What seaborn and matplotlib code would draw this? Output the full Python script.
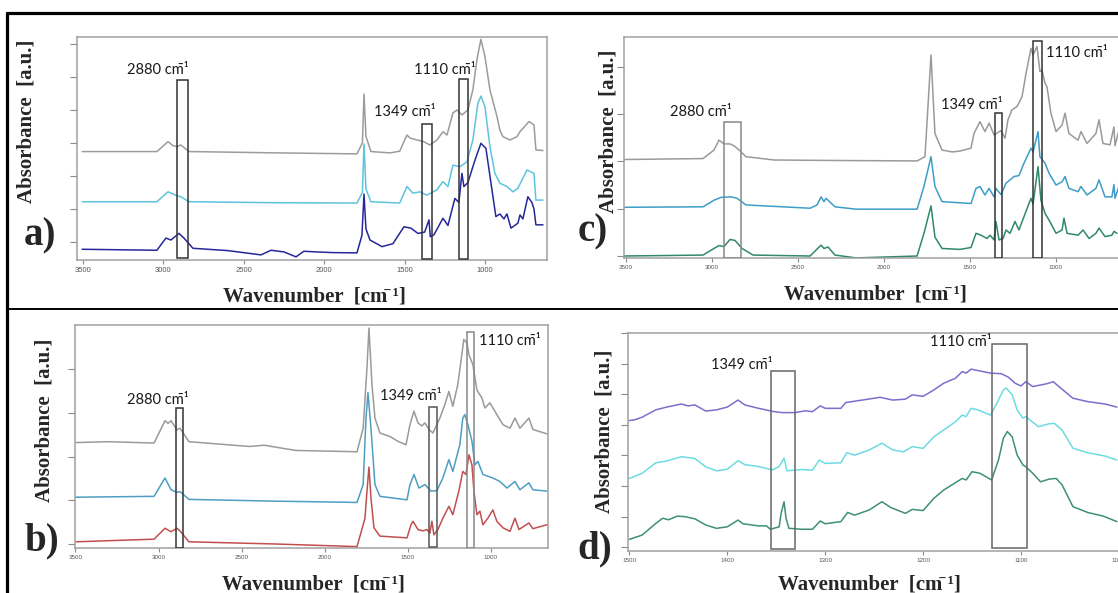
import pandas as pd
import matplotlib
matplotlib.use("Agg")
import matplotlib.pyplot as plt
from matplotlib.patches import Rectangle
from matplotlib.lines import Line2D
import seaborn as sns

# ---------------------------------------------------------------- spectra
# (wavenumber [cm-1], absorbance offset [a.u.])
a_grey = [(3505, 2.74), (3040, 2.74), (2971, 3.04), (2940, 2.92), (2915, 2.89), (2891, 2.94),
          (2841, 2.74), (2300, 2.70), (1796, 2.67), (1762, 3.0), (1752, 4.48), (1740, 3.2),
          (1709, 2.74), (1591, 2.70), (1530, 2.75), (1485, 3.24), (1466, 3.15), (1423, 3.09),
          (1386, 3.05), (1342, 2.94), (1299, 3.09), (1261, 3.34), (1236, 3.24), (1199, 3.91),
          (1174, 4.00), (1143, 3.85), (1106, 4.00), (1075, 4.61), (1050, 5.52), (1025, 6.14),
          (1000, 5.62), (969, 4.61), (925, 3.80), (907, 3.39), (888, 3.19), (844, 3.09),
          (801, 3.19), (782, 3.34), (726, 3.65), (695, 3.55), (683, 2.79), (639, 2.77)]
a_cyan = [(3505, 1.22), (3040, 1.22), (2971, 1.52), (2915, 1.40), (2891, 1.37), (2841, 1.22),
          (2300, 1.19), (1796, 1.18), (1762, 1.5), (1752, 2.97), (1740, 1.6), (1709, 1.22),
          (1530, 1.18), (1485, 1.68), (1448, 1.48), (1404, 1.52), (1361, 1.42), (1299, 1.58),
          (1261, 1.83), (1230, 1.68), (1199, 2.33), (1155, 2.28), (1112, 2.43), (1075, 3.09),
          (1044, 4.20), (1025, 4.42), (1000, 4.10), (969, 2.89), (938, 2.08), (907, 1.78),
          (863, 1.68), (826, 1.52), (795, 1.63), (739, 2.18), (695, 2.08), (683, 1.27), (639, 1.27)]
a_navy = [(3505, -0.22), (3040, -0.25), (2984, 0.12), (2953, 0.06), (2903, 0.26), (2872, 0.12),
          (2816, -0.19), (2600, -0.26), (2393, -0.39), (2331, -0.25), (2250, -0.30), (2175, -0.45),
          (2126, -0.28), (2050, -0.30), (1950, -0.32), (1796, -0.33), (1765, 0.2), (1752, 1.45),
          (1740, 0.4), (1715, 0.06), (1640, -0.14), (1572, -0.05), (1504, 0.46), (1460, 0.42),
          (1417, 0.26), (1375, 0.30), (1348, 0.67), (1340, 0.16), (1317, 0.22), (1261, 0.72),
          (1230, 0.50), (1187, 1.32), (1162, 1.20), (1143, 2.08), (1131, 1.68), (1106, 1.80),
          (1062, 2.48), (1025, 2.99), (994, 2.84), (950, 1.37), (932, 0.77), (907, 0.85),
          (882, 0.70), (863, 0.85), (838, 0.42), (795, 0.57), (782, 0.82), (764, 0.70),
          (733, 1.37), (708, 1.20), (695, 1.00), (683, 0.52), (639, 0.52)]

b_grey = [(3497, 2.32), (3310, 2.34), (3027, 2.31), (2961, 2.82), (2943, 2.76), (2925, 2.82),
          (2889, 2.61), (2871, 2.65), (2817, 2.34), (2450, 2.23), (2365, 2.26), (2173, 2.14),
          (1805, 2.11), (1768, 2.65), (1745, 4.03), (1733, 4.94), (1715, 3.65), (1697, 2.88),
          (1667, 2.54), (1607, 2.46), (1559, 2.35), (1510, 2.27), (1486, 2.73), (1462, 3.04),
          (1438, 2.77), (1414, 2.70), (1396, 2.77), (1372, 2.62), (1348, 2.54), (1306, 2.88),
          (1276, 3.19), (1252, 3.49), (1228, 3.15), (1198, 3.65), (1174, 4.33), (1162, 4.68),
          (1143, 4.60), (1131, 4.33), (1107, 4.10), (1083, 3.52), (1053, 3.34), (1035, 3.11),
          (1005, 3.23), (963, 2.96), (926, 2.73), (884, 2.65), (854, 2.88), (824, 2.65),
          (770, 2.88), (746, 2.62), (662, 2.52)]
b_blue = [(3497, 1.07), (3027, 1.09), (2961, 1.51), (2925, 1.24), (2889, 1.18), (2871, 1.20),
          (2817, 1.02), (2300, 0.98), (1805, 0.95), (1768, 1.36), (1751, 2.88), (1739, 3.46),
          (1721, 2.65), (1697, 1.36), (1667, 1.09), (1504, 1.01), (1486, 1.36), (1462, 1.59),
          (1432, 1.28), (1396, 1.36), (1360, 1.21), (1324, 1.22), (1288, 1.51), (1252, 1.93),
          (1228, 1.66), (1186, 2.27), (1168, 2.88), (1156, 2.96), (1137, 2.73), (1113, 2.35),
          (1095, 1.81), (1077, 1.89), (1047, 1.59), (1017, 1.55), (987, 1.51), (945, 1.43),
          (902, 1.28), (854, 1.43), (824, 1.24), (770, 1.40), (746, 1.24), (662, 1.21)]
b_red = [(3497, 0.05), (3027, 0.11), (2961, 0.36), (2925, 0.28), (2889, 0.36), (2871, 0.30),
         (2817, 0.05), (2300, 0.00), (1805, -0.06), (1787, 0.18), (1757, 0.59), (1745, 1.21),
         (1733, 1.76), (1721, 1.05), (1703, 0.37), (1667, 0.18), (1504, 0.14), (1480, 0.44),
         (1468, 0.52), (1438, 0.33), (1408, 0.30), (1384, 0.33), (1366, 0.25), (1354, 0.52),
         (1342, 0.21), (1318, 0.33), (1288, 0.59), (1252, 0.86), (1228, 0.67), (1192, 1.21),
         (1168, 1.66), (1149, 1.59), (1131, 2.04), (1113, 1.81), (1101, 1.21), (1083, 0.67),
         (1065, 0.75), (1047, 0.44), (1017, 0.59), (987, 0.78), (963, 0.52), (926, 0.37),
         (884, 0.29), (854, 0.59), (830, 0.33), (770, 0.48), (746, 0.35), (662, 0.44)]

c_grey = [(3512, 2.04), (3052, 2.06), (2988, 2.24), (2959, 2.45), (2930, 2.37), (2895, 2.37),
          (2871, 2.33), (2842, 2.24), (2802, 2.10), (2639, 2.03), (2300, 2.02), (1806, 2.01),
          (1760, 2.10), (1725, 4.25), (1702, 2.59), (1661, 2.24), (1600, 2.20), (1556, 2.22),
          (1492, 2.28), (1475, 2.59), (1440, 2.84), (1411, 2.63), (1387, 2.81), (1358, 2.56),
          (1318, 2.65), (1294, 2.49), (1277, 2.88), (1254, 3.09), (1224, 3.16), (1195, 3.37),
          (1172, 3.86), (1143, 4.39), (1131, 4.25), (1108, 4.43), (1091, 3.90), (1079, 3.93),
          (1061, 3.65), (1050, 3.58), (1027, 3.02), (997, 2.63), (962, 2.77), (945, 3.02),
          (922, 2.59), (869, 2.45), (852, 2.63), (817, 2.38), (765, 2.59), (747, 2.88),
          (724, 2.38), (683, 2.35), (660, 2.73), (654, 2.33), (625, 2.75)]
c_blue = [(3512, 1.03), (3052, 1.04), (2988, 1.18), (2947, 1.24), (2889, 1.25), (2854, 1.22),
          (2802, 1.08), (2429, 1.01), (2388, 1.08), (2365, 1.25), (2348, 1.15), (2336, 1.22),
          (2284, 1.04), (2161, 0.99), (1806, 0.99), (1766, 1.47), (1725, 2.10), (1702, 1.47),
          (1661, 1.15), (1492, 1.11), (1463, 1.43), (1440, 1.47), (1411, 1.29), (1387, 1.43),
          (1358, 1.25), (1347, 1.43), (1318, 1.30), (1288, 1.54), (1242, 1.68), (1213, 1.70),
          (1184, 1.96), (1143, 2.28), (1131, 2.20), (1102, 2.63), (1091, 2.10), (1061, 1.96),
          (1038, 1.75), (997, 1.50), (962, 1.57), (945, 1.68), (922, 1.43), (869, 1.36),
          (852, 1.47), (817, 1.29), (765, 1.43), (747, 1.61), (712, 1.25), (672, 1.25),
          (660, 1.51), (654, 1.22), (625, 1.54)]
c_green = [(3512, 0.00), (3052, 0.02), (2988, 0.16), (2959, 0.22), (2930, 0.20), (2895, 0.35),
           (2866, 0.33), (2825, 0.16), (2761, 0.02), (2429, 0.00), (2365, 0.23), (2348, 0.16),
           (2324, 0.19), (2284, 0.02), (2161, -0.04), (1806, 0.00), (1766, 0.48), (1725, 1.06),
           (1702, 0.40), (1661, 0.16), (1556, 0.14), (1492, 0.18), (1463, 0.48), (1434, 0.44),
           (1399, 0.37), (1382, 0.44), (1358, 0.34), (1347, 0.73), (1329, 0.34), (1306, 0.37),
           (1288, 0.55), (1265, 0.48), (1236, 0.73), (1213, 0.55), (1184, 0.83), (1143, 1.22),
           (1131, 1.10), (1102, 1.89), (1085, 1.18), (1061, 0.90), (1038, 0.76), (997, 0.48),
           (962, 0.55), (951, 0.80), (933, 0.48), (869, 0.44), (840, 0.55), (805, 0.37),
           (765, 0.48), (747, 0.59), (712, 0.41), (672, 0.44), (660, 0.52), (642, 0.48)]

d_violet = [(1500, 4.14), (1494, 4.17), (1487, 4.25), (1473, 4.49), (1462, 4.58), (1447, 4.68),
            (1440, 4.62), (1433, 4.65), (1422, 4.45), (1411, 4.49), (1400, 4.58), (1389, 4.81),
            (1382, 4.65), (1368, 4.54), (1352, 4.43), (1344, 4.40), (1331, 4.40), (1320, 4.46),
            (1313, 4.43), (1305, 4.62), (1300, 4.54), (1284, 4.54), (1279, 4.73), (1262, 4.81),
            (1244, 4.90), (1231, 4.81), (1218, 4.84), (1211, 4.98), (1200, 4.93), (1189, 5.14),
            (1179, 5.36), (1167, 5.52), (1160, 5.74), (1156, 5.69), (1151, 5.82), (1142, 5.76),
            (1131, 5.69), (1120, 5.67), (1113, 5.56), (1106, 5.36), (1100, 5.27), (1095, 5.41),
            (1088, 5.25), (1074, 5.34), (1067, 5.41), (1062, 5.27), (1047, 4.87), (1032, 4.76),
            (1014, 4.68), (1002, 4.58)]
d_cyan = [(1500, 2.25), (1487, 2.42), (1473, 2.76), (1462, 2.82), (1447, 2.96), (1433, 2.90),
          (1422, 2.63), (1411, 2.50), (1400, 2.55), (1389, 2.83), (1382, 2.70), (1368, 2.64),
          (1354, 2.53), (1347, 2.64), (1342, 2.91), (1339, 2.50), (1324, 2.54), (1313, 2.52),
          (1306, 2.85), (1300, 2.74), (1284, 2.76), (1278, 3.09), (1270, 3.01), (1255, 3.18),
          (1242, 3.40), (1231, 3.18), (1220, 3.12), (1211, 3.29), (1200, 3.23), (1189, 3.61),
          (1179, 3.83), (1167, 4.10), (1160, 4.32), (1156, 4.27), (1151, 4.54), (1144, 4.49),
          (1136, 4.38), (1131, 4.32), (1123, 4.81), (1118, 5.14), (1115, 5.20), (1109, 4.98),
          (1104, 4.49), (1098, 4.22), (1095, 4.27), (1089, 4.11), (1082, 3.94), (1072, 4.03),
          (1066, 4.05), (1058, 3.83), (1047, 3.24), (1032, 3.09), (1014, 2.98), (1002, 2.85)]
d_green = [(1500, 0.26), (1487, 0.40), (1473, 0.78), (1466, 0.95), (1460, 0.90), (1451, 1.02),
           (1443, 1.00), (1433, 0.93), (1422, 0.73), (1411, 0.62), (1400, 0.67), (1389, 0.89),
           (1384, 0.77), (1368, 0.70), (1360, 0.70), (1356, 0.59), (1347, 0.67), (1345, 1.11),
           (1342, 1.49), (1340, 0.95), (1337, 0.62), (1324, 0.59), (1313, 0.59), (1305, 0.86),
           (1300, 0.77), (1284, 0.84), (1277, 1.14), (1270, 1.05), (1255, 1.22), (1242, 1.49),
           (1233, 1.30), (1218, 1.11), (1211, 1.24), (1200, 1.20), (1189, 1.60), (1179, 1.87),
           (1167, 2.11), (1160, 2.25), (1156, 2.20), (1150, 2.47), (1142, 2.42), (1130, 2.20),
           (1123, 2.85), (1118, 3.56), (1114, 3.78), (1109, 3.61), (1104, 3.02), (1098, 2.69),
           (1095, 2.63), (1088, 2.42), (1080, 2.14), (1071, 2.23), (1064, 2.25), (1058, 2.04),
           (1047, 1.33), (1032, 1.14), (1016, 1.02), (1002, 0.84)]

wide_ticks = [3500, 3000, 2500, 2000, 1500, 1000]
zoom_ticks = [1500, 1400, 1300, 1200, 1100, 1000]

UNIT = "cm\u0304\u00b9"
AXIS_UNIT = "Wavenumber  [cm\u0304 \u00b9]"

# ---------------------------------------------------------------- figure
sns.set_style("ticks")
plt.rcParams["font.family"] = ["Liberation Serif", "DejaVu Serif"]

W, H = 1118, 593
fig = plt.figure(figsize=(W / 100, H / 100), dpi=100, facecolor="white")


def rect(l, t, r, b):
    return [l / W, 1 - b / H, (r - l) / W, (b - t) / H]


def ftext(x, y, s, **kw):
    fig.text(x / W, 1 - y / H, s, ha="center", va="center", **kw)


panels = [
    dict(name="a", box=rect(77, 37, 547, 260), xlim=(3537, 614), ylim=(-0.545, 6.21),
         xticks=wide_ticks, yticks=range(0, 7), tsize=5.5,
         series={"grey": a_grey, "cyan": a_cyan, "navy": a_navy},
         colors={"grey": "#9c9c9c", "cyan": "#5ec4de", "navy": "#26279a"},
         marks=[(2880, 2915, 2847, -0.48, 4.91, "#333333", 3034, 5.21),
                (1349, 1392, 1330, -0.52, 3.58, "#333333", 1497, 3.94),
                (1110, 1162, 1106, -0.52, 4.94, "#333333", 1249, 5.21)],
         ylab=(27, 121), letter=(40, 236), xlab=(314, 297)),
    dict(name="b", box=rect(75, 325, 548, 548), xlim=(3503, 655), ylim=(-0.092, 5.01),
         xticks=wide_ticks, yticks=range(0, 5), tsize=4.5,
         series={"grey": b_grey, "blue": b_blue, "red": b_red},
         colors={"grey": "#9a9a9a", "blue": "#4d9ec2", "red": "#c24f4f"},
         marks=[(2880, 2895, 2853, -0.09, 3.11, "#333333", 3003, 3.30),
                (1349, 1372, 1324, -0.07, 3.14, "#555555", 1480, 3.39),
                (1110, 1143, 1101, -0.09, 4.85, "#888888", 884, 4.65)],
         ylab=(45, 420), letter=(42, 541), xlab=(313, 585)),
    dict(name="c", box=rect(624, 37, 1160, 258), xlim=(3512, 392), ylim=(-0.042, 4.63),
         xticks=wide_ticks, yticks=range(0, 5), tsize=4.5,
         series={"grey": c_grey, "blue": c_blue, "green": c_green},
         colors={"grey": "#9a9a9a", "blue": "#3e9dc8", "green": "#2f8a66"},
         marks=[(2880, 2930, 2831, -0.04, 2.83, "#888888", 3064, 3.04),
                (1349, 1352, 1312, -0.04, 3.02, "#333333", 1486, 3.19),
                (1110, 1131, 1079, -0.04, 4.55, "#333333", 875, 4.29)],
         ylab=(609, 131), letter=(593, 232), xlab=(875, 295)),
    dict(name="d", box=rect(628, 333, 1160, 551), xlim=(1501.4, 958), ylim=(-0.12, 7.0),
         xticks=zoom_ticks, yticks=range(0, 8), tsize=4.5,
         series={"violet": d_violet, "cyan": d_cyan, "green": d_green},
         colors={"violet": "#7a6fcc", "cyan": "#6ddce2", "green": "#3f9073"},
         marks=[(1349, 1355, 1331, -0.06, 5.76, "#666666", 1385, 5.96),
                (1110, 1130, 1094, -0.02, 6.64, "#666666", 1161, 6.71)],
         ylab=(604, 431), letter=(595, 549), xlab=(869, 584)),
]

for p in panels:
    ax = fig.add_axes(p["box"])
    frames = []
    for key, pts in p["series"].items():
        df = pd.DataFrame(pts, columns=["wavenumber", "absorbance"])
        df["series"] = key
        frames.append(df)
    data = pd.concat(frames, ignore_index=True)
    sns.lineplot(data=data, x="wavenumber", y="absorbance", hue="series",
                 palette=p["colors"], sort=False, estimator=None, legend=False,
                 linewidth=1.1, ax=ax)
    ax.set_xlim(*p["xlim"])
    ax.set_ylim(*p["ylim"])
    ax.set(xlabel="", ylabel="")

    ax.set_xticks(p["xticks"])
    ax.set_xticklabels([str(v) for v in p["xticks"]], fontsize=p["tsize"],
                       family=["Liberation Sans", "DejaVu Sans"], color="#555555")
    ax.set_yticks(list(p["yticks"]))
    ax.set_yticklabels([])
    ax.tick_params(axis="x", length=3, width=0.8, color="#8a8a8a", pad=2)
    ax.tick_params(axis="y", length=5, width=0.8, color="#8a8a8a")
    for sp in ax.spines.values():
        sp.set_visible(True)
        sp.set_color("#a0a0a0")
        sp.set_linewidth(1.1)

    for wn, x0, x1, y0, y1, col, tx, ty in p["marks"]:
        ax.add_patch(Rectangle((min(x0, x1), y0), abs(x0 - x1), y1 - y0,
                               fill=False, edgecolor=col, linewidth=1.1, zorder=5))
        ax.text(tx, ty, f"{wn} {UNIT}", ha="center", va="center", fontsize=10.5,
                family=["Lato", "DejaVu Sans"], color="#1a1a1a", zorder=6)

    ftext(*p["ylab"], "Absorbance  [a.u.]", rotation=90, fontsize=15, fontweight="bold")
    ftext(*p["xlab"], AXIS_UNIT, fontsize=15, fontweight="bold")
    ftext(*p["letter"], p["name"] + ")", fontsize=28, fontweight="bold")

# outer frame of the composite
frame = dict(transform=fig.transFigure, color="black", solid_capstyle="butt")
fig.add_artist(Line2D([6 / W, 1], [1 - 13 / H, 1 - 13 / H], lw=2.3, **frame))
fig.add_artist(Line2D([7 / W, 7 / W], [1 - 12 / H, 0], lw=2.3, **frame))
fig.add_artist(Line2D([7 / W, 1], [1 - 309 / H, 1 - 309 / H], lw=1.4, **frame))

fig.savefig("out.png", dpi=100, facecolor="white")
